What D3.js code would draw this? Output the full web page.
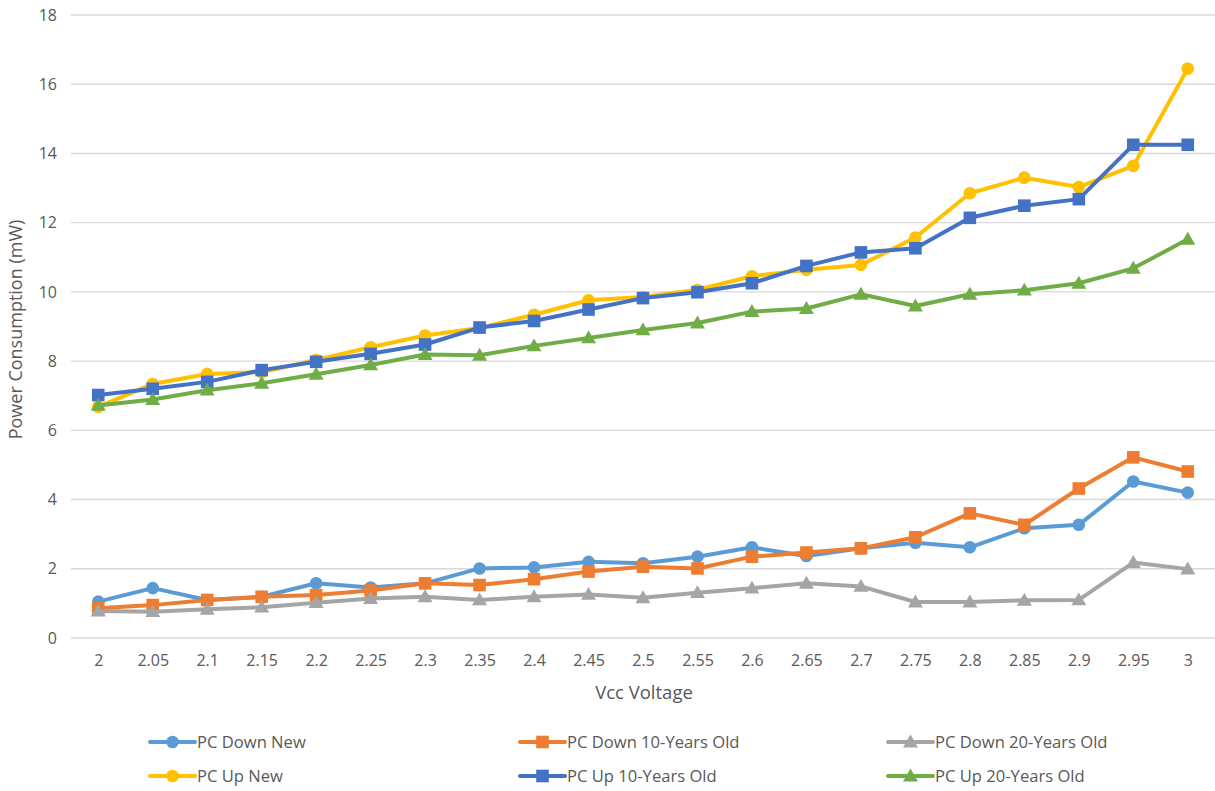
<!DOCTYPE html>
<html>
<head>
<meta charset="utf-8">
<script src="https://cdn.jsdelivr.net/npm/d3@7"></script>
<style>
  html, body { margin: 0; padding: 0; background: #fff; }
  svg { display: block; }
  text { font-family: "Segoe UI", "Open Sans", "Noto Sans", sans-serif; fill: #595959; }
</style>
</head>
<body>
<svg id="chart" width="1215" height="791"></svg>
<script>
// Supply voltage (V) along the x axis
const voltages = ["2", "2.05", "2.1", "2.15", "2.2", "2.25", "2.3", "2.35", "2.4", "2.45", "2.5",
                  "2.55", "2.6", "2.65", "2.7", "2.75", "2.8", "2.85", "2.9", "2.95", "3"];

// Power consumption (mW) per series
const pcDownNew   = [1.05, 1.44, 1.10, 1.19, 1.58, 1.46, 1.58, 2.01, 2.04, 2.20, 2.16,
                     2.35, 2.62, 2.37, 2.59, 2.75, 2.62, 3.17, 3.27, 4.52, 4.20];
const pcDown10    = [0.86, 0.95, 1.10, 1.19, 1.24, 1.37, 1.58, 1.53, 1.70, 1.92, 2.06,
                     2.01, 2.35, 2.47, 2.59, 2.91, 3.60, 3.27, 4.32, 5.22, 4.81];
const pcDown20    = [0.78, 0.76, 0.83, 0.89, 1.02, 1.14, 1.19, 1.10, 1.19, 1.26, 1.16,
                     1.31, 1.44, 1.58, 1.49, 1.04, 1.04, 1.09, 1.10, 2.18, 1.99];
const pcUpNew     = [6.68, 7.34, 7.63, 7.68, 8.03, 8.40, 8.74, 8.96, 9.34, 9.76, 9.85,
                     10.06, 10.45, 10.64, 10.78, 11.57, 12.85, 13.30, 13.03, 13.64, 16.45];
const pcUp10      = [7.02, 7.20, 7.40, 7.74, 7.98, 8.21, 8.48, 8.97, 9.16, 9.49, 9.82,
                     9.99, 10.25, 10.75, 11.14, 11.26, 12.14, 12.49, 12.68, 14.25, 14.25];
const pcUp20      = [6.72, 6.89, 7.16, 7.36, 7.62, 7.89, 8.19, 8.17, 8.44, 8.67, 8.90,
                     9.10, 9.43, 9.52, 9.93, 9.59, 9.93, 10.05, 10.25, 10.68, 11.52];

const yTicks = [0, 2, 4, 6, 8, 10, 12, 14, 16, 18];

const seriesNames  = ["PC Down New", "PC Down 10-Years Old", "PC Down 20-Years Old",
                      "PC Up New", "PC Up 10-Years Old", "PC Up 20-Years Old"];
const seriesValues = [pcDownNew, pcDown10, pcDown20, pcUpNew, pcUp10, pcUp20];
const seriesColors = ["#5B9BD5", "#ED7D31", "#A5A5A5", "#FFC000", "#4472C4", "#70AD47"];
const seriesShapes = ["circle", "square", "triangle", "circle", "square", "triangle"];

const series = seriesNames.map((name, i) => ({
  name, color: seriesColors[i], shape: seriesShapes[i],
  points: voltages.map((v, j) => ({ v, y: seriesValues[i][j] }))
}));

const svg = d3.select("#chart");
const plot = { left: 71, right: 1215, top: 15, bottom: 638 };
const fontStack = '"Segoe UI", "Open Sans", "Noto Sans", sans-serif';

const x = d3.scalePoint().domain(voltages).range([plot.left, plot.right]).padding(0.5);
const y = d3.scaleLinear().domain([0, 18]).range([plot.bottom, plot.top]);

// Horizontal gridlines
svg.append("g")
  .selectAll("line")
  .data(yTicks)
  .join("line")
  .attr("x1", plot.left).attr("x2", plot.right)
  .attr("y1", d => y(d)).attr("y2", d => y(d))
  .attr("stroke", "#d9d9d9").attr("stroke-width", 1.4);

// Y axis tick labels
const yAxis = svg.append("g")
  .attr("transform", `translate(${plot.left - 14},0)`)
  .call(d3.axisLeft(y).tickValues(yTicks).tickSize(0).tickPadding(0));
yAxis.select(".domain").remove();
yAxis.selectAll("text").attr("font-size", 16).attr("fill", "#595959")
  .style("font-family", fontStack);

// X axis tick labels
const xAxis = svg.append("g")
  .attr("transform", `translate(0,${plot.bottom + 17})`)
  .call(d3.axisBottom(x).tickSize(0).tickPadding(0));
xAxis.select(".domain").remove();
xAxis.selectAll("text").attr("font-size", 16).attr("fill", "#595959")
  .style("font-family", fontStack);

// Axis titles
svg.append("text")
  .attr("x", (plot.left + plot.right) / 2 + 1).attr("y", 699)
  .attr("text-anchor", "middle").attr("font-size", 18.5)
  .text("Vcc Voltage");
svg.append("text")
  .attr("transform", `translate(22,${(plot.top + plot.bottom) / 2 + 3}) rotate(-90)`)
  .attr("text-anchor", "middle").attr("font-size", 18)
  .text("Power Consumption (mW)");

// Marker drawing helper
function drawMarker(g, shape, color, cx, cy) {
  if (shape === "circle") {
    g.append("circle").attr("cx", cx).attr("cy", cy).attr("r", 6.3).attr("fill", color);
  } else if (shape === "square") {
    g.append("rect").attr("x", cx - 6.3).attr("y", cy - 6.3)
      .attr("width", 12.6).attr("height", 12.6).attr("fill", color);
  } else {
    const s = 7.5;
    g.append("path")
      .attr("d", `M${cx},${cy - s} L${cx + s},${cy + s * 0.72} L${cx - s},${cy + s * 0.72} Z`)
      .attr("fill", color);
  }
}

const line = d3.line().x(d => x(d.v)).y(d => y(d.y));

// Series lines and markers
series.forEach(s => {
  const g = svg.append("g");
  g.append("path")
    .attr("d", line(s.points))
    .attr("fill", "none")
    .attr("stroke", s.color)
    .attr("stroke-width", 4)
    .attr("stroke-linejoin", "round")
    .attr("stroke-linecap", "round");
  s.points.forEach(p => drawMarker(g, s.shape, s.color, x(p.v), y(p.y)));
});

// Legend: three columns, two rows
const legendCols = [150, 520, 888];
const legendRows = [742, 776];
series.forEach((s, i) => {
  const lx = legendCols[i % 3];
  const ly = legendRows[Math.floor(i / 3)];
  const g = svg.append("g");
  g.append("line")
    .attr("x1", lx).attr("x2", lx + 45)
    .attr("y1", ly).attr("y2", ly)
    .attr("stroke", s.color).attr("stroke-width", 4).attr("stroke-linecap", "round");
  drawMarker(g, s.shape, s.color, lx + 22.5, ly);
  g.append("text")
    .attr("x", lx + 47).attr("y", ly)
    .attr("dy", "0.35em")
    .attr("font-size", 16.6)
    .text(s.name);
});
</script>
</body>
</html>
